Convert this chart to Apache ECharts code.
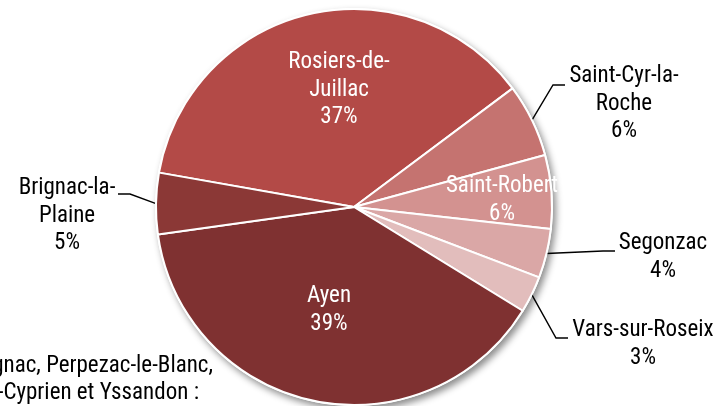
<!DOCTYPE html>
<html>
<head>
<meta charset="utf-8">
<script src="https://cdn.jsdelivr.net/npm/echarts@6/dist/echarts.min.js"></script>
<style>
  html, body { margin: 0; padding: 0; background: #ffffff; }
  #chart { width: 714px; height: 406px; }
</style>
</head>
<body>
<div id="chart"></div>
<script>
// Répartition par commune (en %)
const communes = ['Rosiers-de-Juillac', 'Saint-Cyr-la-Roche', 'Saint-Robert', 'Segonzac', 'Vars-sur-Roseix', 'Ayen', 'Brignac-la-Plaine'];
const labelNames = ['Rosiers-de-\nJuillac', 'Saint-Cyr-la-\nRoche', 'Saint-Robert', 'Segonzac', 'Vars-sur-Roseix', 'Ayen', 'Brignac-la-\nPlaine'];
const parts = [37, 6, 6, 4, 3, 39, 5];
const autresCommunes = ['Louignac, Perpezac-le-Blanc,', 'Saint-Cyprien et Yssandon :'];

// Slice colours
const sliceColors = ['#B34A47', '#C57370', '#D39290', '#DAA7A6', '#E2BDBC', '#7F3131', '#8B3836'];

// Where each label sits; outside labels also get a leader line ending at lineEnd
const labelPlacement = {
  'Rosiers-de-Juillac': { x: 339, y: 90, inside: true },
  'Saint-Cyr-la-Roche': { x: 624, y: 104, lineY: 85, lineEnd: 565, side: 1 },
  'Saint-Robert': { x: 502, y: 200, inside: true },
  'Segonzac': { x: 663, y: 257, lineY: 251, lineEnd: 615, side: 1 },
  'Vars-sur-Roseix': { x: 643, y: 344, lineY: 338, lineEnd: 568, side: 1 },
  'Ayen': { x: 329, y: 310, inside: true },
  'Brignac-la-Plaine': { x: 67, y: 216, lineY: 194, lineEnd: 118, side: -1 }
};

// Narrow sans-serif face (Roboto, condensed width)
const FONT_FAMILY = 'Roboto, "Liberation Sans", sans-serif';
const FONT_STRETCH = 'condensed';
const FONT_SIZE = 23;
const LINE_HEIGHT = 27.5;
const FONT = FONT_STRETCH + ' ' + FONT_SIZE + 'px ' + FONT_FAMILY;

const CENTER = [354, 207];
const total = parts.reduce((a, b) => a + b, 0);

const chart = echarts.init(document.getElementById('chart'), null, { renderer: 'canvas' });

const pieData = communes.map((name, i) => {
  const place = labelPlacement[name];
  return {
    name: name,
    value: parts[i],
    itemStyle: { color: sliceColors[i] },
    label: {
      position: place.inside ? 'inside' : 'outside',
      color: place.inside ? '#ffffff' : '#000000'
    },
    labelLine: { show: !place.inside }
  };
});

// Note on the remaining communes, bottom left (runs past the left edge)
const noteRightEdges = [213, 199];
const noteGraphics = autresCommunes.map((line, i) => ({
  type: 'text',
  x: noteRightEdges[i],
  y: 366 + i * LINE_HEIGHT,
  style: {
    text: line,
    font: FONT,
    fill: '#000000',
    textAlign: 'right',
    textVerticalAlign: 'middle'
  }
}));

chart.setOption({
  animation: false,
  backgroundColor: '#ffffff',
  graphic: noteGraphics,
  series: [
    {
      // white disc behind the pie, carrying the drop shadow
      type: 'pie',
      silent: true,
      z: 1,
      center: CENTER,
      radius: 199,
      data: [{ value: total, name: '' }],
      label: { show: false },
      labelLine: { show: false },
      itemStyle: {
        color: '#ffffff',
        shadowBlur: 7,
        shadowOffsetX: 3,
        shadowOffsetY: 4,
        shadowColor: 'rgba(0,0,0,0.45)'
      }
    },
    {
      type: 'pie',
      z: 2,
      center: CENTER,
      radius: 198,
      startAngle: 170,
      clockwise: true,
      avoidLabelOverlap: false,
      itemStyle: { borderColor: '#ffffff', borderWidth: 2 },
      label: {
        show: true,
        fontFamily: FONT_FAMILY,
        fontStyle: FONT_STRETCH,
        fontSize: FONT_SIZE,
        lineHeight: LINE_HEIGHT,
        align: 'center',
        formatter: (p) => labelNames[p.dataIndex] + '\n' + p.value + '%'
      },
      labelLine: {
        show: true,
        length: 20,
        length2: 12,
        lineStyle: { color: '#000000', width: 1.4 }
      },
      labelLayout: function (p) {
        const place = labelPlacement[communes[p.dataIndex]];
        const out = { x: place.x, y: place.y, align: 'center', verticalAlign: 'middle' };
        if (!place.inside && p.labelLinePoints) {
          const a = p.labelLinePoints[0];
          out.labelLinePoints = [
            [a[0], a[1]],
            [place.lineEnd - place.side * 12, place.lineY],
            [place.lineEnd, place.lineY]
          ];
        }
        return out;
      },
      emphasis: { disabled: true },
      data: pieData
    }
  ]
});
</script>
</body>
</html>
